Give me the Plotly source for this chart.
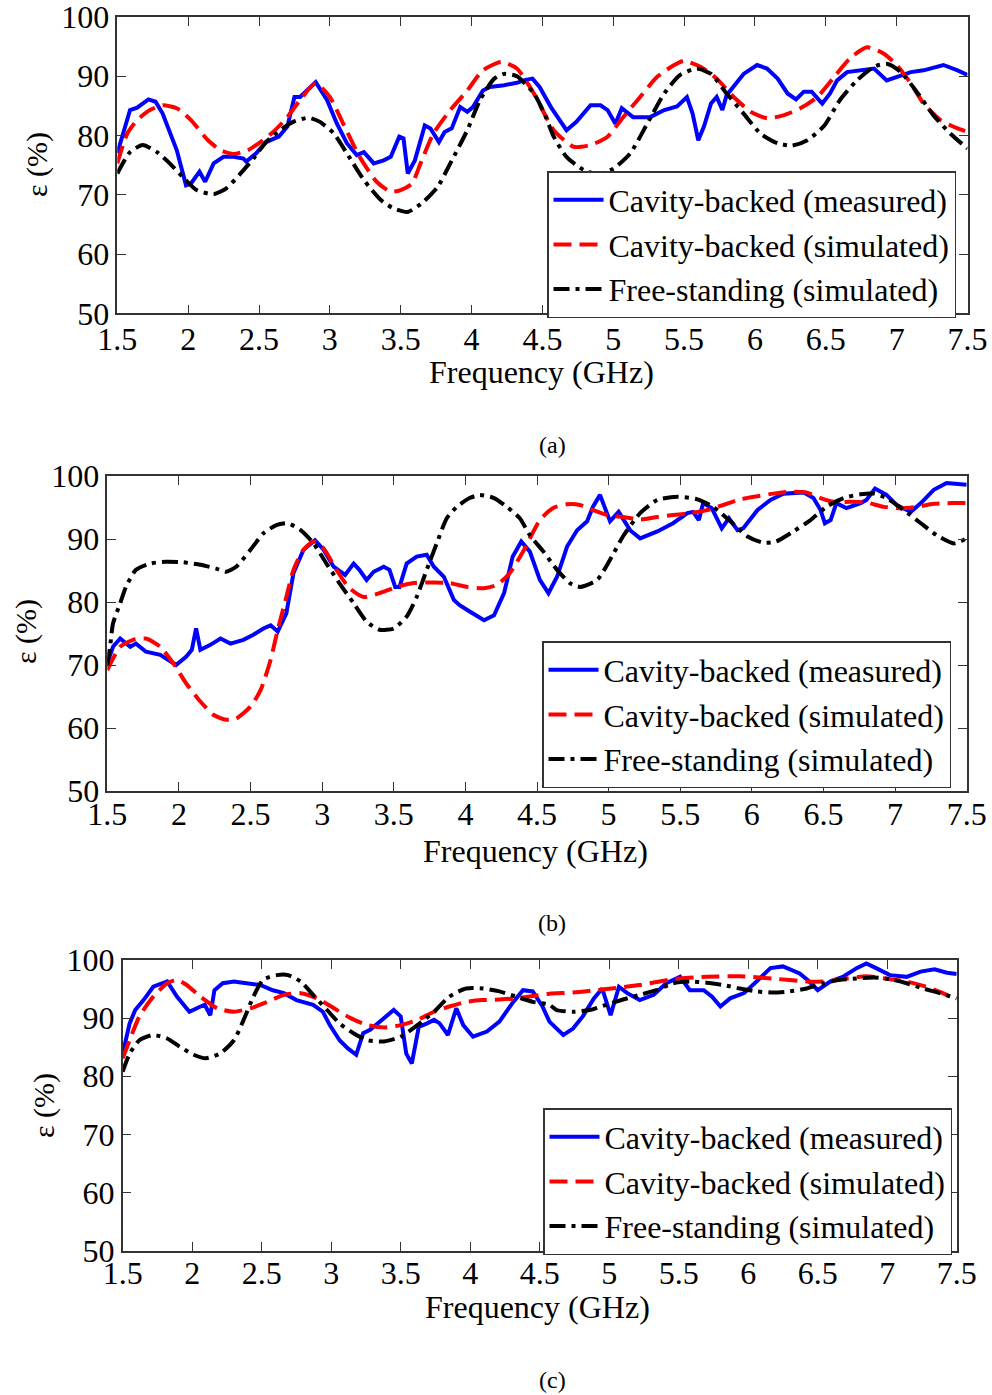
import plotly.graph_objects as go

# ---------------- data ----------------
x_ticks = [1.5, 2, 2.5, 3, 3.5, 4, 4.5, 5, 5.5, 6, 6.5, 7, 7.5]
x_tick_labels = ["1.5", "2", "2.5", "3", "3.5", "4", "4.5", "5", "5.5", "6", "6.5", "7", "7.5"]
y_ticks = [50, 60, 70, 80, 90, 100]
y_tick_labels = ["50", "60", "70", "80", "90", "100"]
series_names = ["Cavity-backed (measured)", "Cavity-backed (simulated)", "Free-standing (simulated)"]
panel_captions = ["(a)", "(b)", "(c)"]

# panel (a)
fa_meas = [1.5,1.59,1.64,1.72,1.77,1.82,1.92,1.985,2.02,2.08,2.12,2.18,2.25,2.32,2.39,2.41,2.48,2.55,2.64,2.70,
           2.75,2.79,2.90,2.98,3.05,3.12,3.19,3.24,3.27,3.31,3.38,3.43,3.49,3.52,3.55,3.60,3.67,3.71,3.77,3.81,
           3.86,3.92,3.97,4.01,4.08,4.13,4.23,4.32,4.38,4.43,4.48,4.56,4.67,4.74,4.84,4.91,4.96,5.015,5.06,5.14,
           5.26,5.36,5.45,5.52,5.56,5.60,5.64,5.69,5.73,5.77,5.80,5.87,5.92,6.015,6.085,6.16,6.23,6.29,6.345,6.40,
           6.44,6.475,6.53,6.58,6.65,6.77,6.84,6.93,7.03,7.10,7.19,7.33,7.43,7.5]
va_meas = [77,84.3,84.7,86.1,85.7,83.7,77.5,71.6,71.9,73.9,72.2,75.3,76.4,76.4,76.1,75.6,77,78.9,79.8,81.5,
           86.5,86.5,89,86,82,78.7,76.7,77.2,76.4,75.3,75.8,76.4,79.8,79.5,73.6,75.8,81.7,81.2,78.9,80.6,
           81.2,84.8,84.0,84.8,87.6,88.2,88.5,88.9,89.4,89.6,88.2,84.8,80.9,82.3,85.1,85.1,84.3,82,84.6,83.1,
           83.1,84.3,84.9,86.5,83.7,79.2,81.5,85.4,86.5,84.3,86.8,88.8,90.4,91.9,91.3,89.6,87.1,86.1,87.4,87.4,
           86.2,85.4,87.1,89.3,90.7,91.0,91.3,89.3,90.2,90.7,91.0,91.9,91.0,90.2]
fa_csim = [1.5,1.57,1.64,1.73,1.82,1.92,2.02,2.14,2.23,2.32,2.42,2.51,2.60,2.70,2.79,2.90,3.00,3.10,3.21,3.33,
           3.43,3.50,3.58,3.64,3.73,3.85,3.97,4.08,4.21,4.32,4.44,4.58,4.72,4.84,4.96,5.07,5.19,5.31,5.43,5.50,
           5.615,5.73,5.85,5.97,6.085,6.20,6.32,6.44,6.56,6.67,6.79,6.91,7.00,7.10,7.19,7.31,7.43,7.5]
va_csim = [75.3,80.3,82.6,84.3,85.1,84.6,82.6,79.2,77.5,76.9,77.5,78.9,80.6,83.1,86,88.8,86.5,81.7,76.4,72.2,
           70.5,70.8,71.9,75.3,80.3,84.3,87.6,91,92.4,91.3,87.1,80.9,78.1,78.4,79.8,83.1,86.5,89.9,91.9,92.6,
           91.6,89.6,86.5,84,82.9,83.4,84.6,86.5,89.9,93,94.9,93.8,91.9,88.8,85.4,82.6,81.2,80.6]
fa_free = [1.5,1.59,1.68,1.78,1.87,1.97,2.06,2.18,2.27,2.37,2.46,2.55,2.65,2.74,2.85,2.93,3.03,3.12,3.24,3.36,
           3.45,3.55,3.66,3.76,3.85,3.97,4.06,4.16,4.23,4.32,4.44,4.52,4.58,4.67,4.79,4.90,5.00,5.12,5.24,5.36,
           5.47,5.59,5.69,5.80,5.92,6.04,6.16,6.26,6.37,6.49,6.60,6.72,6.84,6.93,7.03,7.15,7.26,7.38,7.5]
va_free = [73.6,77.2,78.4,77.2,75.3,72.8,70.8,70.1,71.1,73.6,76.1,78.9,80.9,82.3,83,82.3,80.3,77,72.5,69.1,
           67.7,67.1,68.8,71.3,75.3,80.9,86,89.6,90.4,90,87.1,83.4,79.8,76.4,74.2,73.5,74.4,77,82,87.1,
           90.2,91.3,90.4,87.1,83.7,80.3,78.7,78.3,79.2,81.7,86,89.3,91.6,92.1,90.7,87.1,83.4,80.3,77.8]

# panel (b)
fb_meas = [1.5,1.54,1.59,1.66,1.70,1.77,1.87,1.94,1.98,2.05,2.09,2.12,2.15,2.22,2.29,2.36,2.40,2.45,2.52,2.59,
           2.64,2.69,2.75,2.80,2.87,2.95,3.01,3.08,3.16,3.22,3.26,3.31,3.36,3.43,3.47,3.51,3.54,3.59,3.66,3.73,
           3.78,3.85,3.92,3.96,4.03,4.13,4.20,4.27,4.33,4.39,4.45,4.52,4.58,4.64,4.71,4.78,4.85,4.89,4.94,5.01,
           5.07,5.15,5.22,5.34,5.45,5.55,5.59,5.63,5.66,5.72,5.79,5.84,5.90,5.94,6.04,6.13,6.22,6.36,6.43,6.48,
           6.51,6.55,6.59,6.66,6.76,6.80,6.86,6.94,7.01,7.11,7.18,7.27,7.36,7.45,7.5]
vb_meas = [70.3,72.9,74.2,72.9,73.4,72.1,71.6,70.5,70,71.3,72.4,75.8,72.4,73.2,74.2,73.4,73.7,74,74.8,75.8,
           76.3,75.3,78.2,84.6,88.3,89.8,88.3,85.6,84.3,86.1,85.1,83.5,84.8,85.6,85.1,82.4,82.4,86.1,87.2,87.5,
           85.6,84,80.3,79.5,78.5,77.1,77.9,81.4,87.2,89.6,88,83.5,81.4,84,88.8,91.4,92.8,95.1,97,92.8,
           94.3,91.4,90.1,91.2,92.5,94.1,94.3,93,95.7,94.9,91.7,93.3,91.4,91.7,94.6,96.2,97.2,97.4,96.5,94.6,
           92.5,93,95.7,94.9,95.7,96.2,98,97,95.4,94.3,95.7,97.8,98.9,98.8,98.6]
fb_csim = [1.5,1.59,1.68,1.77,1.87,1.96,2.05,2.15,2.24,2.33,2.40,2.50,2.57,2.64,2.69,2.75,2.80,2.87,2.94,3.01,
           3.10,3.19,3.29,3.40,3.52,3.64,3.78,3.89,4.01,4.13,4.22,4.31,4.41,4.52,4.61,4.71,4.80,4.89,4.99,5.10,
           5.22,5.34,5.45,5.57,5.69,5.80,5.92,6.04,6.15,6.27,6.38,6.48,6.57,6.69,6.80,6.92,7.04,7.15,7.27,7.39,7.5]
vb_csim = [69.2,72.9,74,74.2,72.9,70.3,67.1,64.2,62.1,61.3,61.5,63.4,66,70.8,75.6,80.8,85.1,88.3,89.6,88.5,
           85.1,82.2,80.8,81.4,82.4,83,83.1,83,82.4,82.2,82.7,84.6,88.3,93,94.9,95.5,95.4,94.6,93.8,93.5,
           93.1,93.5,93.8,94.1,94.6,95.4,96.3,96.8,97.2,97.5,97.4,96.5,95.9,95.9,95.8,95.1,94.9,95.1,95.6,95.7,95.7]
fb_free = [1.5,1.52,1.54,1.59,1.63,1.70,1.80,1.91,2.03,2.15,2.26,2.33,2.40,2.50,2.59,2.68,2.76,2.85,2.94,3.03,
           3.12,3.22,3.31,3.40,3.50,3.59,3.66,3.73,3.80,3.87,3.94,4.03,4.10,4.20,4.29,4.38,4.45,4.545,4.64,4.73,
           4.80,4.92,5.01,5.10,5.22,5.34,5.48,5.62,5.73,5.85,5.97,6.08,6.17,6.29,6.41,6.52,6.64,6.76,6.85,6.94,
           7.06,7.18,7.29,7.41,7.5]
vb_free = [70,73,76.6,79.8,82.4,85.1,86.1,86.4,86.3,85.9,85.3,84.8,85.6,88.3,90.9,92.2,92.5,91.4,89.3,86.1,
           83,79.8,76.9,75.6,75.8,77.7,80.8,85.1,89.3,93.3,95.1,96.5,97,96.5,95.1,93.3,90.6,88,85.1,83,
           82.4,83.5,86.7,90.4,94.1,96.2,96.7,96.3,95.1,92.8,90.4,89.4,89.6,91.2,93,95.1,96.5,97.1,97.2,96.5,
           94.6,92.5,90.6,89.3,90.1]

# panel (c)
fc_meas = [1.5,1.55,1.59,1.65,1.72,1.82,1.89,1.98,2.06,2.09,2.13,2.16,2.22,2.30,2.39,2.49,2.58,2.66,2.75,2.87,
           2.94,2.99,3.06,3.12,3.18,3.23,3.28,3.35,3.40,3.45,3.50,3.54,3.58,3.63,3.69,3.74,3.78,3.84,3.90,3.95,
           4.02,4.12,4.21,4.31,4.38,4.45,4.52,4.57,4.67,4.74,4.81,4.89,4.95,5.01,5.07,5.13,5.22,5.32,5.41,5.51,
           5.58,5.68,5.74,5.80,5.87,5.97,6.06,6.16,6.25,6.37,6.44,6.50,6.59,6.68,6.78,6.85,6.92,7.02,7.14,7.24,
           7.34,7.43,7.5]
vc_meas = [83.9,89.1,91.4,93.1,95.4,96.3,93.7,91.1,92,92.3,90.5,94.8,96,96.3,96,95.7,94.8,94.3,93.1,92.3,
           91.1,88.8,86.2,84.8,83.7,87.4,88,89.4,90.3,91.4,90.3,83.9,82.2,88.5,89.1,89.7,89.1,87.1,91.7,88.8,
           86.8,87.7,89.4,92.8,94.8,94.6,92,89.4,87.1,88.2,90.3,93.4,95.1,90.5,95.4,94.3,93.1,94,96,97.1,
           94.8,94.8,93.7,92,93.4,94.3,96.3,98.6,98.9,97.7,96.3,94.8,96.3,97.1,98.6,99.4,98.6,97.4,97.1,98,
           98.4,97.8,97.6]
fc_csim = [1.5,1.55,1.62,1.72,1.82,1.89,1.96,2.06,2.18,2.30,2.42,2.54,2.66,2.78,2.90,3.02,3.14,3.26,3.38,3.50,
           3.62,3.74,3.85,3.97,4.09,4.21,4.33,4.45,4.57,4.74,4.98,5.22,5.46,5.70,5.94,6.18,6.42,6.56,6.71,6.85,
           6.99,7.14,7.28,7.40,7.5]
vc_csim = [83.1,86.2,90.3,93.7,96,96.6,95.7,93.7,91.7,91.1,91.7,92.8,94,94.3,93.4,91.7,90,88.8,88.4,88.8,
           89.7,91.1,92,92.8,93.1,93.2,93.4,93.8,94.2,94.4,95,95.7,96.7,97.1,97.2,96.8,96.3,96.3,96.8,97.2,
           96.8,96.3,95.4,94.3,93.1]
fc_free = [1.5,1.55,1.62,1.72,1.82,1.91,2.01,2.10,2.20,2.30,2.37,2.44,2.51,2.61,2.69,2.78,2.87,2.97,3.06,3.16,
           3.26,3.38,3.50,3.62,3.74,3.85,3.97,4.09,4.21,4.33,4.45,4.57,4.62,4.74,4.86,4.98,5.10,5.22,5.34,5.46,
           5.58,5.70,5.82,5.94,6.06,6.18,6.30,6.42,6.54,6.66,6.78,6.90,7.02,7.14,7.26,7.38,7.5]
vc_free = [80.8,83.9,86.2,87.1,86.5,85.1,83.7,83.1,83.9,86.2,89.7,93.7,96.6,97.4,97.4,96.3,94,91.4,89.1,87.4,
           86.2,86,86.8,88.8,91.1,93.7,95.1,95.1,94.6,93.7,92.8,92.3,91.4,91.1,91.4,92.3,93.2,94,94.8,96,
           96.3,96.1,95.7,95.1,94.6,94.4,94.6,95.1,96,96.6,96.8,97,96.7,96,95.1,94.3,93.4]

# ---------------- layout helpers ----------------
W, H = 992, 1395
FONT = "Liberation Serif, Times New Roman, serif"
AX = "#333333"

def fx(p):
    return p / W

def fy(p):
    return 1 - p / H

# plot boxes in pixels: (left, right, top, bottom), legend top-left, axis title centers, caption
panels = [
    dict(box=(117.3, 967.5, 17.0, 313.3), leg=(547, 171), xt=(541, 372), yt=(37, 165), cap=(552, 445), shift=-3,
         data=[(fa_meas, va_meas), (fa_csim, va_csim), (fa_free, va_free)]),
    dict(box=(107.3, 966.7, 476.0, 791.0), leg=(542, 641), xt=(535, 851), yt=(26, 632), cap=(552, 923), shift=-6,
         data=[(fb_meas, vb_meas), (fb_csim, vb_csim), (fb_free, vb_free)]),
    dict(box=(122.7, 956.7, 960.0, 1250.7), leg=(543, 1108), xt=(537, 1307), yt=(44, 1106), cap=(552, 1380), shift=-7,
         data=[(fc_meas, vc_meas), (fc_csim, vc_csim), (fc_free, vc_free)]),
]

styles = [
    dict(color="#0000ff", width=4, dash="solid", shape="linear"),
    dict(color="#ff0000", width=4, dash="18px,8px", shape="spline"),
    dict(color="#000000", width=4, dash="16px,6px,4px,6px", shape="spline"),
]

fig = go.Figure()
layout = dict(
    width=W, height=H, margin=dict(l=0, r=0, t=0, b=0, pad=0, autoexpand=False),
    paper_bgcolor="white", plot_bgcolor="white",
    font=dict(family=FONT, size=32, color="black"),
    annotations=[],
)

for i, p in enumerate(panels):
    n = "" if i == 0 else str(i + 1)
    xa, ya = "x" + n, "y" + n
    leg = "legend" + n
    for (xs, ys), name, st in zip(p["data"], series_names, styles):
        assert len(xs) == len(ys)
        fig.add_trace(go.Scatter(
            x=xs, y=ys, name=name, mode="lines", xaxis=xa, yaxis=ya, legend=leg,
            line=dict(color=st["color"], width=st["width"], dash=st["dash"], shape=st["shape"], smoothing=0.6),
        ))
    l, r, t, b = p["box"]
    common = dict(showgrid=False, zeroline=False, showline=True, linecolor=AX, linewidth=1.5,
                  mirror="ticks", ticks="inside", ticklen=9, tickwidth=1.3, tickcolor=AX, automargin=False,
                  ticklabeloverflow="allow",
                  tickfont=dict(family=FONT, size=32, color="black"))
    layout["xaxis" + n] = dict(domain=[fx(l), fx(r)], range=[1.5, 7.5], anchor=ya,
                               tickvals=x_ticks, ticktext=x_tick_labels,
                               ticklabelstandoff=p["shift"], **common)
    layout["yaxis" + n] = dict(domain=[fy(b), fy(t)], range=[50, 100], anchor=xa,
                               tickvals=y_ticks, ticktext=y_tick_labels, **common)
    layout[leg] = dict(x=fx(p["leg"][0]), y=fy(p["leg"][1]), xanchor="left", yanchor="top",
                       bgcolor="white", bordercolor=AX, borderwidth=1.5,
                       font=dict(family=FONT, size=32, color="black"),
                       tracegroupgap=0, itemwidth=50)
    layout["annotations"] += [
        dict(text="Frequency (GHz)", x=fx(p["xt"][0]), y=fy(p["xt"][1]), xref="paper", yref="paper",
             xanchor="center", yanchor="middle", showarrow=False, font=dict(size=32)),
        dict(text="ε (%)", x=fx(p["yt"][0]), y=fy(p["yt"][1]), xref="paper", yref="paper",
             xanchor="center", yanchor="middle", showarrow=False, textangle=-90, font=dict(size=30)),
        dict(text=panel_captions[i], x=fx(p["cap"][0]), y=fy(p["cap"][1]), xref="paper", yref="paper",
             xanchor="center", yanchor="middle", showarrow=False, font=dict(size=24)),
    ]

fig.update_layout(**layout)
fig.write_html("out.html")
